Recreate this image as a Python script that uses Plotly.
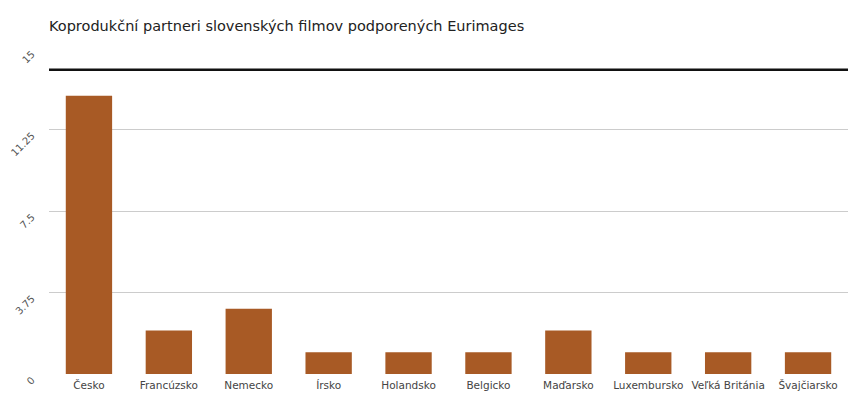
import plotly.graph_objects as go

categories = ["Česko", "Francúzsko", "Nemecko", "Írsko", "Holandsko", "Belgicko",
              "Maďarsko", "Luxembursko", "Veľká Británia", "Švajčiarsko"]
values = [12.8, 2, 3, 1, 1, 1, 2, 1, 1, 1]
tick_vals = [0, 3.75, 7.5, 11.25, 15]
tick_text = ["0", "3.75", "7.5", "11.25", "15"]
ref_line = 14

fig = go.Figure(go.Bar(x=categories, y=values, marker_color="#A85A25",
                       marker_line_width=0))
fig.add_shape(type="line", xref="paper", x0=0, x1=1, yref="y", y0=ref_line, y1=ref_line,
              line=dict(color="#111111", width=2.5))
fig.update_layout(
    width=851, height=394,
    margin=dict(l=49, r=3, t=48, b=20),
    paper_bgcolor="white", plot_bgcolor="white",
    bargap=0.42,
    showlegend=False,
    title=dict(text="Koprodukční partneri slovenských filmov podporených Eurimages",
               x=0, xref="paper", xanchor="left", y=0.935, yanchor="middle",
               font=dict(family="DejaVu Sans", size=14.5, color="#222")),
    font=dict(family="DejaVu Sans", size=10, color="#444"),
)
fig.update_xaxes(showgrid=False, showline=False, ticks="", tickangle=0, automargin=False,
                 tickfont=dict(size=10.5, color="#444"), ticklabelstandoff=3)
fig.update_yaxes(range=[0, 15], tickvals=tick_vals, ticktext=tick_text, automargin=False,
                 tickangle=-45, gridcolor="#cccccc", gridwidth=1, zeroline=False,
                 showline=False, tickfont=dict(size=10, color="#555"),
                 ticklabelstandoff=16, ticklabelshift=5)
fig.write_html("out.html")
